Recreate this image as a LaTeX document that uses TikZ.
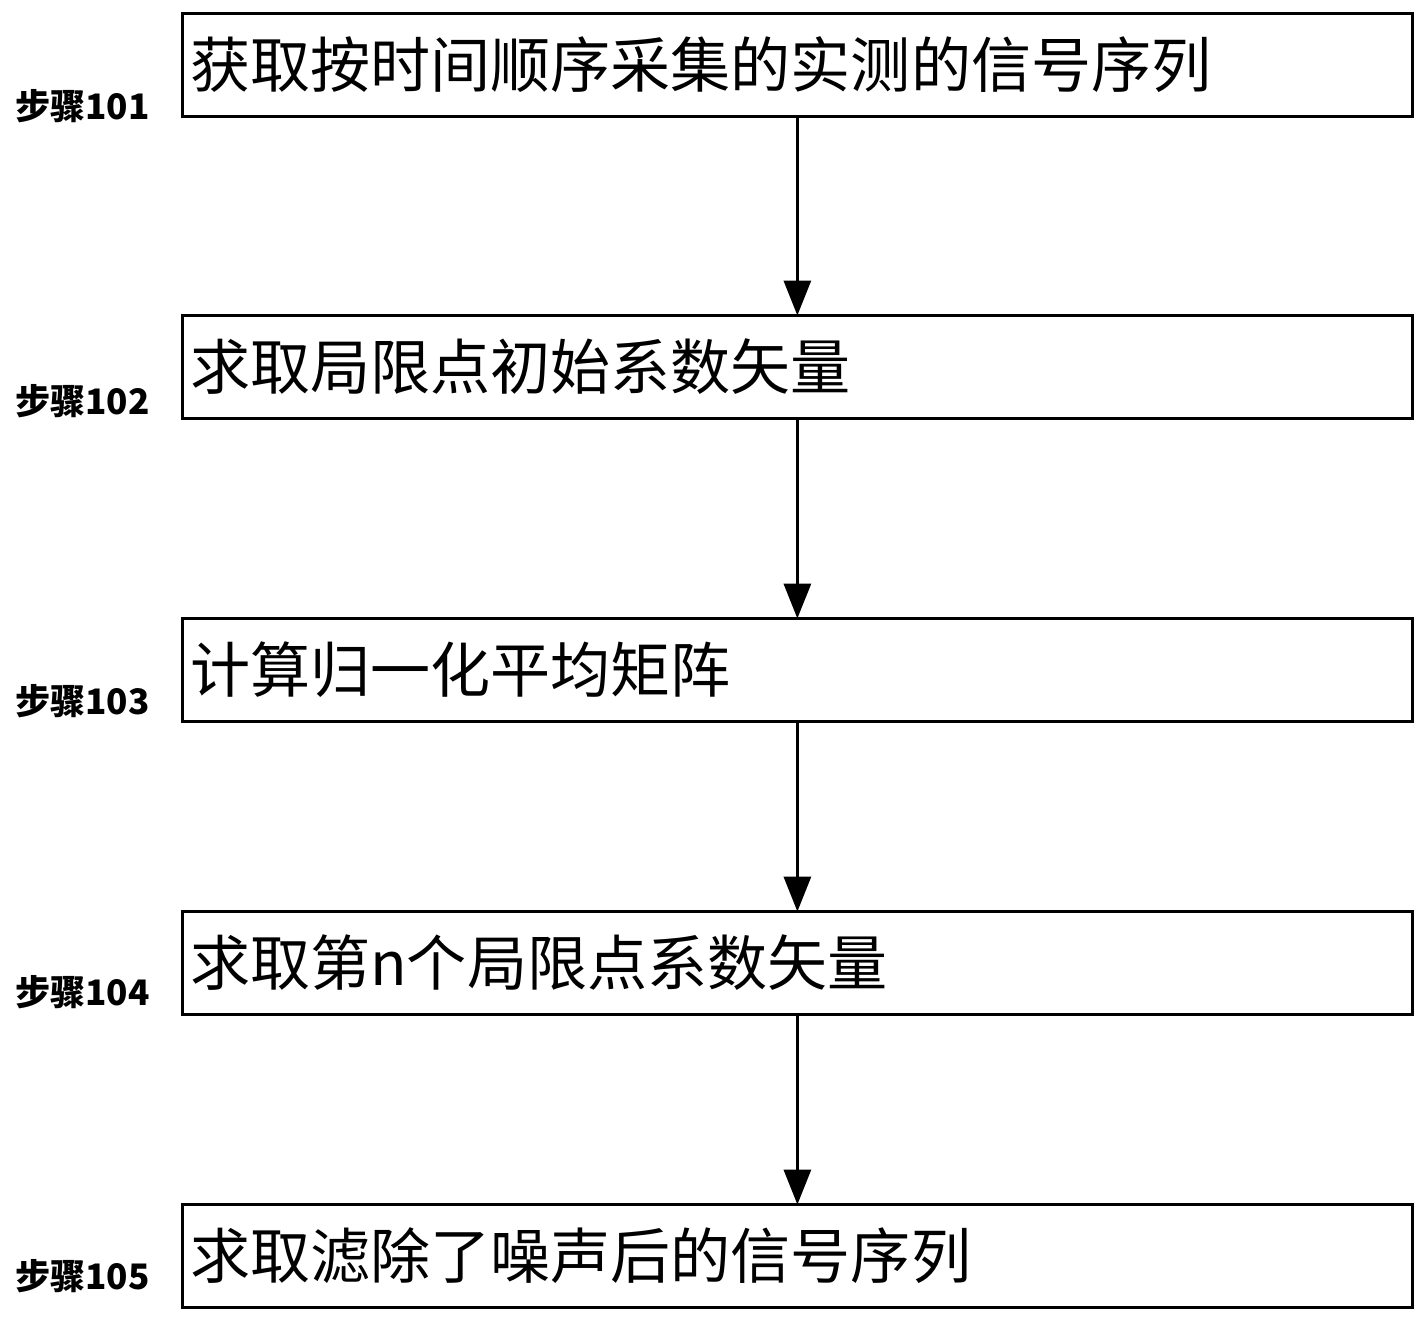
\documentclass[tikz,border=0pt]{standalone}
\usepackage{fontspec}
\usepackage{xcolor}
\usepackage{tikz}
\newfontfamily\cjk{Noto Sans CJK SC}
\usetikzlibrary{arrows.meta,positioning}

\begin{document}
\begin{tikzpicture}[
    x=0.02cm, y=-0.02cm,
    stepbox/.style={rectangle, draw=black, line width=0.06cm, minimum height=2.06cm, text width=24.3cm, inner xsep=0.16cm, align=left, outer sep=0pt, font=\cjk\fontsize{34.2}{40}\selectfont},
    steplabel/.style={anchor=east, inner sep=0pt, font=\cjk\bfseries\fontsize{20}{24}\selectfont},
    flow/.style={-{Triangle[length=0.7cm, width=0.54cm]}, line width=0.065cm, black}
]
    \useasboundingbox (0,0) rectangle (1425,1323);

    % Boxes
    \node[stepbox, anchor=west] (b1) at (182,65) {获取按时间顺序采集的实测的信号序列};
    \node[stepbox, anchor=west] (b2) at (182,367) {求取局限点初始系数矢量};
    \node[stepbox, anchor=west] (b3) at (182,670) {计算归一化平均矩阵};
    \node[stepbox, anchor=west] (b4) at (182,963) {求取第n个局限点系数矢量};
    \node[stepbox, anchor=west] (b5) at (182,1256) {求取滤除了噪声后的信号序列};

    % Step labels
    \node[steplabel] (l1) at (150,106) {步骤101};
    \node[steplabel] (l2) at (150,401) {步骤102};
    \node[steplabel] (l3) at (150,701) {步骤103};
    \node[steplabel] (l4) at (150,992) {步骤104};
    \node[steplabel] (l5) at (150,1276) {步骤105};

    % Arrows
    \draw[flow] (b1.south) -- (b2.north);
    \draw[flow] (b2.south) -- (b3.north);
    \draw[flow] (b3.south) -- (b4.north);
    \draw[flow] (b4.south) -- (b5.north);
\end{tikzpicture}
\end{document}
